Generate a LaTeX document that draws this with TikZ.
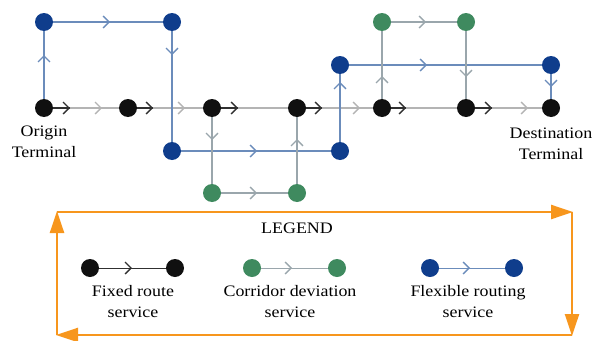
\documentclass[tikz,border=0pt]{standalone}
\usepackage{fontspec}
\setmainfont{Liberation Serif}[FakeStretch=1.12]
\usetikzlibrary{arrows.meta,decorations.markings}

\definecolor{stopblack}{HTML}{101010}
\definecolor{stopblue}{HTML}{0F3D8C}
\definecolor{stopgreen}{HTML}{3F8A5F}
\definecolor{flexline}{HTML}{6B8CBB}
\definecolor{fixline}{HTML}{B4B4B4}
\definecolor{fixdark}{HTML}{303030}
\definecolor{corrline}{HTML}{9AA6AC}
\definecolor{legendorange}{HTML}{F7961D}

\tikzset{
  stop/.style={circle, minimum size=18pt, inner sep=0pt, outer sep=0pt},
  fixstop/.style={stop, fill=stopblack},
  flexstop/.style={stop, fill=stopblue},
  corrstop/.style={stop, fill=stopgreen},
  chevtip/.tip={Straight Barb[length=6pt,width=12pt]},
  % chevron placed at a distance along the connector
  chev/.style 2 args={postaction={decorate,decoration={markings,
      mark=at position #1 with {\arrow[#2, line width=1.3pt]{chevtip}}}}},
  % dark lead-out from a stop followed by a dark chevron
  leadchev/.style={postaction={decorate,decoration={markings,
      mark=at position #1 with {\draw[fixdark, line width=1.3pt] (-#1,0) -- (0pt,0);
                                 \arrow[fixdark, line width=1.3pt]{chevtip}}}}},
  fixroute/.style={draw=fixline, line width=1.4pt},
  flexroute/.style={draw=flexline, line width=1.4pt},
  corrroute/.style={draw=corrline, line width=1.4pt},
  lbl/.style={font=\fontsize{16}{21}\selectfont, align=center},
  frame/.style={draw=legendorange, line width=2.4pt,
      -{Triangle[length=22pt,width=14pt]}, shorten >=-1pt},
}

\begin{document}
\begin{tikzpicture}[x=1pt, y=-1pt]
\useasboundingbox (0,0) rectangle (602,340);

% fixed route stops
\node[fixstop] (k1) at (44,108) {};
\node[fixstop] (k2) at (128,108) {};
\node[fixstop] (k3) at (212,108) {};
\node[fixstop] (k4) at (297,108) {};
\node[fixstop] (k5) at (382,108) {};
\node[fixstop] (k6) at (466,108) {};
\node[fixstop] (k7) at (551,108) {};

% flexible routing stops
\node[flexstop] (b1) at (44,22) {};
\node[flexstop] (b2) at (172,22) {};
\node[flexstop] (b3) at (172,151) {};
\node[flexstop] (b4) at (340,151) {};
\node[flexstop] (b5) at (340,65) {};
\node[flexstop] (b6) at (551,65) {};

% corridor deviation stops
\node[corrstop] (g1) at (212,193) {};
\node[corrstop] (g2) at (297,193) {};
\node[corrstop] (g3) at (382,22) {};
\node[corrstop] (g4) at (466,22) {};

% fixed route
\draw[fixroute, leadchev=17pt, chev={49pt}{fixline}] (k1) -- (k2);
\draw[fixroute, leadchev=16pt, chev={48pt}{fixline}] (k2) -- (k3);
\draw[fixroute, leadchev=17pt] (k3) -- (k4);
\draw[fixroute, leadchev=16pt, chev={54pt}{fixline}] (k4) -- (k5);
\draw[fixroute, leadchev=15pt] (k5) -- (k6);
\draw[fixroute, leadchev=17pt, chev={53pt}{fixline}] (k6) -- (k7);

% flexible routing
\draw[flexroute, chev={44pt}{flexline}] (k1) -- (b1);
\draw[flexroute, chev={57pt}{flexline}] (b1) -- (b2);
\draw[flexroute, chev={24pt}{flexline}] (b2) -- (b3);
\draw[flexroute, chev={76pt}{flexline}] (b3) -- (b4);
\draw[flexroute, chev={60pt}{flexline}] (b4) -- (b5);
\draw[flexroute, chev={78pt}{flexline}] (b5) -- (b6);
\draw[flexroute, chev={13pt}{flexline}] (b6) -- (k7);

% corridor deviation
\draw[corrroute, chev={23pt}{corrline}] (k3) -- (g1);
\draw[corrroute, chev={36pt}{corrline}] (g1) -- (g2);
\draw[corrroute, chev={45pt}{corrline}] (g2) -- (k4);
\draw[corrroute, chev={23pt}{corrline}] (k5) -- (g3);
\draw[corrroute, chev={35pt}{corrline}] (g3) -- (g4);
\draw[corrroute, chev={46pt}{corrline}] (g4) -- (k6);

% terminal labels
\node[lbl] (origin) at (44,142) {Origin\\Terminal};
\node[lbl] (dest) at (551,144) {Destination\\Terminal};

% legend frame
\coordinate (f1) at (57,212);
\coordinate (f2) at (572,212);
\coordinate (f3) at (572,335);
\coordinate (f4) at (57,335);
\draw[frame] (f1) -- (f2);
\draw[frame] (f2) -- (f3);
\draw[frame] (f3) -- (f4);
\draw[frame] (f4) -- (f1);

\node[lbl] (legend) at (297,228) {LEGEND};

% legend samples
\node[fixstop] (lk1) at (90,268) {};
\node[fixstop] (lk2) at (175,268) {};
\node[corrstop] (lg1) at (252,268) {};
\node[corrstop] (lg2) at (337,268) {};
\node[flexstop] (lb1) at (430,268) {};
\node[flexstop] (lb2) at (514,268) {};

\draw[draw=fixdark, line width=1pt, chev={33pt}{fixdark}] (lk1) -- (lk2);
\draw[corrroute, line width=1pt, chev={31pt}{corrline}] (lg1) -- (lg2);
\draw[flexroute, line width=1pt, chev={31pt}{flexline}] (lb1) -- (lb2);

\node[lbl] (lkt) at (133,302) {Fixed route\\service};
\node[lbl] (lgt) at (290,302) {Corridor deviation\\service};
\node[lbl] (lbt) at (468,302) {Flexible routing\\service};
\end{tikzpicture}
\end{document}
